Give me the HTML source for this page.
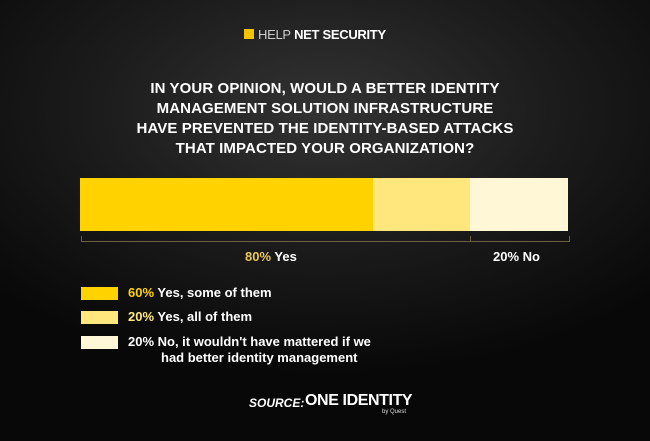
<!DOCTYPE html>
<html><head><style>
body{margin:0;width:650px;height:441px;overflow:hidden;background:#000;font-family:"Liberation Sans",sans-serif;}
.bg{position:absolute;left:0;top:0;width:650px;height:441px;background:radial-gradient(ellipse 70% 60% at 50% 25%,#333 0%,#1c1c1c 50%,#080808 100%);}
.t{position:absolute;color:#fff;white-space:nowrap;}
</style></head><body>
<div class="bg"></div>
<div class="t" style="left:244px;top:29px;width:10px;height:10px;background:#f2c500;"></div>
<div class="t" style="left:258px;top:27px;font-size:13px;font-weight:bold;letter-spacing:-0.3px;"><span style="color:#ccc;font-weight:normal">HELP</span> NET SECURITY</div>
<div class="t" style="left:0;top:79px;width:650px;text-align:center;font-size:15px;font-weight:bold;line-height:20px;letter-spacing:0.1px;">IN YOUR OPINION, WOULD A BETTER IDENTITY<br>MANAGEMENT SOLUTION INFRASTRUCTURE<br>HAVE PREVENTED THE IDENTITY-BASED ATTACKS<br>THAT IMPACTED YOUR ORGANIZATION?</div>
<div class="t" style="left:80px;top:178px;width:293px;height:53px;background:#ffd200;"></div>
<div class="t" style="left:373px;top:178px;width:97px;height:53px;background:#ffe77e;"></div>
<div class="t" style="left:470px;top:178px;width:98px;height:53px;background:#fff7d6;"></div>
<div class="t" style="left:81px;top:236px;width:487px;height:5px;border:1px solid #6b6040;border-top:none;"></div>
<div class="t" style="left:470px;top:236px;width:1px;height:5px;background:#6b6040;"></div>
<div class="t" style="left:245px;top:249px;font-size:13px;font-weight:bold;"><span style="color:#e9c75a">80%</span> Yes</div>
<div class="t" style="left:493px;top:249px;font-size:13px;font-weight:bold;">20% No</div>
<div class="t" style="left:81px;top:287px;width:37px;height:13px;background:#ffd200;"></div>
<div class="t" style="left:81px;top:311px;width:37px;height:13px;background:#ffe77e;"></div>
<div class="t" style="left:81px;top:336px;width:37px;height:13px;background:#fff7d6;"></div>
<div class="t" style="left:128px;top:285px;font-size:13px;font-weight:bold;"><span style="color:#ffd200">60%</span> Yes, some of them</div>
<div class="t" style="left:128px;top:309px;font-size:13px;font-weight:bold;"><span style="color:#ffe77e">20%</span> Yes, all of them</div>
<div class="t" style="left:128px;top:334px;font-size:13px;font-weight:bold;line-height:16px;">20% No, it wouldn't have mattered if we<br><span style="padding-left:33px">had better identity management</span></div>
<div class="t" style="left:249px;top:396px;font-size:12px;font-style:italic;font-weight:bold;">SOURCE:</div>
<div class="t" style="left:305px;top:392px;font-size:16px;font-weight:bold;letter-spacing:-0.4px;">ONE IDENTITY</div>
<div class="t" style="left:382px;top:409px;font-size:6px;color:#ddd;">by Quest</div>
</body></html>
